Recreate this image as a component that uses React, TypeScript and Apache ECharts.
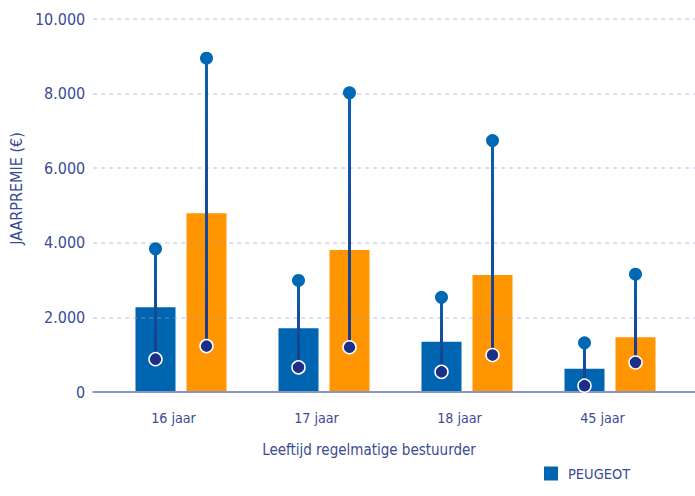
import React, { useEffect, useRef } from "react";
import * as echarts from "echarts";

const categories = ["16 jaar", "17 jaar", "18 jaar", "45 jaar"];
const peugeotValues = [2270, 1710, 1350, 620];
const averageValues = [4790, 3810, 3140, 1470];
const peugeotLow = [880, 660, 540, 170];
const peugeotHigh = [3840, 2990, 2540, 1320];
const averageLow = [1230, 1200, 990, 790];
const averageHigh = [8950, 8020, 6740, 3160];
const yTicks = { min: 0, max: 10000, interval: 2000 };

const FONT = "'Liberation Sans Narrow', 'DejaVu Sans Condensed', 'Roboto Condensed', 'Arial Narrow', sans-serif";
const TEXT = "#3b4b95";
const BLUE = "#0065b0";
const ORANGE = "#ff9500";

const fmt = (v: number) => String(v).replace(/\B(?=(\d{3})+(?!\d))/g, ".");

function errorSeries(name: string, low: number[], high: number[], side: number) {
  return {
    type: "custom",
    name,
    xAxisIndex: 1,
    yAxisIndex: 1,
    z: 10,
    data: categories.map((_, i) => [i, low[i], high[i]]),
    renderItem: (params: any, api: any) => {
      const i = api.value(0);
      const lo = api.coord([i, api.value(1)]);
      const hi = api.coord([i, api.value(2)]);
      const x = lo[0] + side * 25.5;
      return {
        type: "group",
        children: [
          {
            type: "line",
            shape: { x1: x, y1: hi[1], x2: x, y2: lo[1] },
            style: {
              stroke: new echarts.graphic.LinearGradient(
                x, hi[1], x, lo[1],
                [
                  { offset: 0, color: "#0a62ad" },
                  { offset: 1, color: "#1d3889" },
                ],
                true
              ),
              lineWidth: 3,
            },
          },
          {
            type: "circle",
            shape: { cx: x, cy: hi[1], r: 6.5 },
            style: { fill: "#0068b4" },
          },
          {
            type: "circle",
            shape: { cx: x, cy: lo[1], r: 6.5 },
            style: { fill: "#1b2f87", stroke: "#ffffff", lineWidth: 1.5 },
          },
        ],
      };
    },
  };
}

export default function App() {
  const ref = useRef<HTMLDivElement>(null);
  useEffect(() => {
    document.body.style.margin = "0";
    const chart = echarts.init(ref.current!, null, { renderer: "svg" });
    chart.setOption({
      animation: false,
      textStyle: { fontFamily: FONT, color: TEXT },
      grid: [
        { left: 90, right: 0, top: 19, bottom: 104 },
        { left: 109.5, width: 572, top: 19, bottom: 104 },
      ],
      legend: {
        data: [{ name: "PEUGEOT", icon: "rect" }],
        left: 539,
        top: 461,
        itemWidth: 14,
        itemHeight: 14,
        textStyle: { fontFamily: FONT, color: TEXT, fontSize: 14.5, padding: [0, 0, 0, 5] },
      },
      xAxis: [
        {
          type: "category",
          gridIndex: 0,
          data: [""],
          axisLine: { show: true, lineStyle: { color: "#8a94c2", width: 2 } },
          axisTick: { show: false },
          axisLabel: { show: false },
          z: 5,
        },
        {
          type: "category",
          gridIndex: 1,
          data: categories,
          axisLine: { show: false },
          axisTick: { show: false },
          axisLabel: {
            fontFamily: FONT,
            color: TEXT,
            fontSize: 14.2,
            margin: 19,
            padding: [0, 15, 0, 0],
          },
          name: "Leeftijd regelmatige bestuurder",
          nameLocation: "middle",
          nameGap: 50,
          nameTextStyle: { fontFamily: FONT, color: TEXT, fontSize: 15, padding: [0, 53, 0, 0] },
        },
      ],
      yAxis: [
        {
          type: "value",
          gridIndex: 0,
          min: yTicks.min,
          max: yTicks.max,
          interval: yTicks.interval,
          z: 5,
          axisLine: { show: false },
          axisTick: { show: false },
          axisLabel: {
            fontFamily: FONT,
            color: TEXT,
            fontSize: 16,
            margin: 8,
            formatter: (v: number) => fmt(v),
          },
          splitLine: {
            show: true,
            lineStyle: { color: "rgba(150,150,210,0.45)", type: [4, 4], width: 1.5 },
          },
          name: "JAARPREMIE (€)",
          nameLocation: "middle",
          nameGap: 68,
          nameTextStyle: { fontFamily: FONT, color: TEXT, fontSize: 16, padding: [0, 0, 0, 34] },
        },
        {
          type: "value",
          gridIndex: 1,
          min: yTicks.min,
          max: yTicks.max,
          interval: yTicks.interval,
          show: false,
          splitLine: { show: false },
        },
      ],
      series: [
        {
          type: "bar",
          name: "PEUGEOT",
          xAxisIndex: 1,
          yAxisIndex: 1,
          data: peugeotValues,
          barWidth: 40,
          barGap: "27.5%",
          itemStyle: { color: BLUE },
        },
        {
          type: "bar",
          name: "Gemiddelde",
          xAxisIndex: 1,
          yAxisIndex: 1,
          data: averageValues,
          barWidth: 40,
          barGap: "27.5%",
          itemStyle: { color: ORANGE },
        },
        errorSeries("PEUGEOT min-max", peugeotLow, peugeotHigh, -1),
        errorSeries("Gemiddelde min-max", averageLow, averageHigh, 1),
      ],
    });
    return () => chart.dispose();
  }, []);
  return <div ref={ref} style={{ width: 695, height: 496 }} />;
}
